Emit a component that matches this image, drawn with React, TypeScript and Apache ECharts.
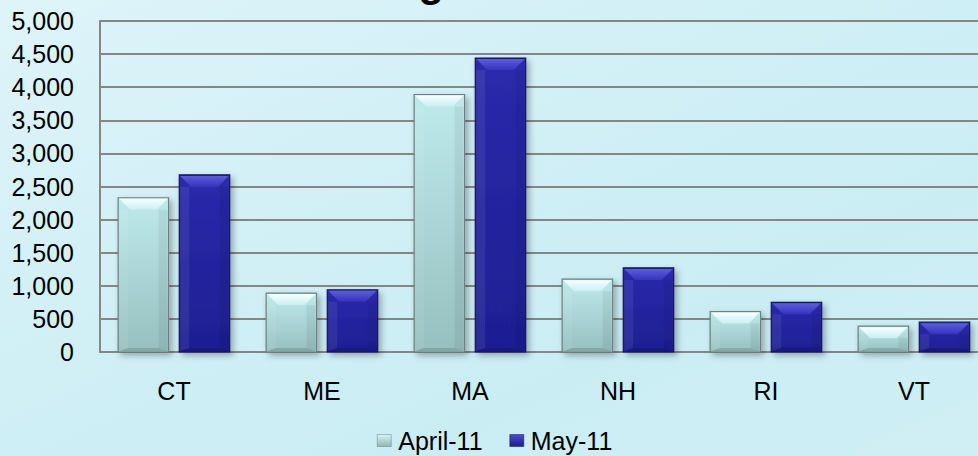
import React, { useEffect, useRef } from "react";
import * as echarts from "echarts";

const categories = ["CT", "ME", "MA", "NH", "RI", "VT"];
const april11 = [2330, 890, 3890, 1100, 610, 390];
const may11 = [2675, 940, 4440, 1270, 750, 450];
const seriesNames = ["April-11", "May-11"];
const chartTitle = "Existing Home Sales";
const yMin = 0;
const yMax = 5000;
const yInterval = 500;

const FONT = "'Liberation Sans', Arial, sans-serif";

type Pal = {
  faceTop: string;
  faceBottom: string;
  bevelTop: string;
  bevelBottom: string;
  stroke: string;
};

const aprilPal: Pal = {
  faceTop: "#bfeaec",
  faceBottom: "#96bfbf",
  bevelTop: "#f6ffff",
  bevelBottom: "#c9eff1",
  stroke: "#6f7f7f",
};
const mayPal: Pal = {
  faceTop: "#2a2aac",
  faceBottom: "#1e1e92",
  bevelTop: "#5c5cdc",
  bevelBottom: "#3434bc",
  stroke: "#14145a",
};

function makeRender(offset: number, pal: Pal) {
  return (_params: any, api: any) => {
    const idx = api.value(0);
    const val = api.value(1);
    const base = api.coord([idx, 0]);
    const top = api.coord([idx, val]);
    const band = api.size([1, 0])[0];
    const w = band * 0.341;
    const cx = base[0] + band * offset;
    const x0 = cx - w / 2;
    const x1 = cx + w / 2;
    const y0 = top[1];
    const y1 = base[1];
    const h = y1 - y0;
    const b = Math.min(12, h / 2);
    const s = Math.min(10, w / 4);
    const bb = Math.min(4, h / 4);
    return {
      type: "group",
      children: [
        {
          type: "rect",
          shape: { x: x0, y: y0, width: w, height: h },
          style: {
            fill: new echarts.graphic.LinearGradient(0, 0, 0, 1, [
              { offset: 0, color: pal.faceTop },
              { offset: 1, color: pal.faceBottom },
            ]),
            stroke: pal.stroke,
            lineWidth: 1.2,
            shadowBlur: 6,
            shadowOffsetX: 3,
            shadowOffsetY: 3,
            shadowColor: "rgba(0,0,0,0.3)",
          },
        },
        {
          type: "polygon",
          shape: { points: [[x0 + 1, y0 + b], [x0 + s, y0 + b], [x0 + s, y1 - bb], [x0 + 1, y1 - 1]] },
          style: { fill: "rgba(255,255,255,0.07)" },
        },
        {
          type: "polygon",
          shape: { points: [[x1 - 1, y0 + b], [x1 - s, y0 + b], [x1 - s, y1 - bb], [x1 - 1, y1 - 1]] },
          style: { fill: "rgba(0,0,0,0.06)" },
        },
        {
          type: "polygon",
          shape: { points: [[x0 + 1, y1 - 1], [x1 - 1, y1 - 1], [x1 - s, y1 - bb], [x0 + s, y1 - bb]] },
          style: { fill: "rgba(0,0,0,0.12)" },
        },
        {
          type: "polygon",
          shape: { points: [[x0 + 1, y0 + 1], [x1 - 1, y0 + 1], [x1 - b, y0 + b], [x0 + b, y0 + b]] },
          style: {
            fill: new echarts.graphic.LinearGradient(0, 0, 0, 1, [
              { offset: 0, color: pal.bevelTop },
              { offset: 1, color: pal.bevelBottom },
            ]),
          },
        },
      ],
    };
  };
}

export default function App() {
  const ref = useRef<HTMLDivElement>(null);
  useEffect(() => {
    document.body.style.margin = "0";
    document.body.style.overflow = "hidden";
    if (!ref.current) return;
    const chart = echarts.init(ref.current, null, { renderer: "svg" });
    const aprilData = april11.map((v, i) => [i, v]);
    const mayData = may11.map((v, i) => [i, v]);
    chart.setOption({
      animation: false,
      backgroundColor: new echarts.graphic.LinearGradient(0, 0, 1, 1, [
        { offset: 0, color: "#def4f9" },
        { offset: 0.35, color: "#d2f0f6" },
        { offset: 0.7, color: "#caedf4" },
        { offset: 1, color: "#d0eff5" },
      ]),
      graphic: [
        {
          type: "text",
          x: 487,
          y: -19,
          style: {
            text: chartTitle,
            font: `bold 42px ${FONT}`,
            fill: "#000",
            align: "center",
            verticalAlign: "middle",
          },
        },
      ],
      grid: { left: 100, right: 0, top: 21, bottom: 104, containLabel: false },
      legend: {
        left: 377,
        top: 428,
        padding: 0,
        icon: "rect",
        itemWidth: 14,
        itemHeight: 12,
        itemGap: 27,
        textStyle: { fontFamily: FONT, fontSize: 25, color: "#000", padding: [0, 0, 0, 2] },
        data: [
          {
            name: seriesNames[0],
            itemStyle: {
              color: new echarts.graphic.LinearGradient(0, 0, 0, 1, [
                { offset: 0, color: "#d8f4f5" },
                { offset: 1, color: "#8fb5b5" },
              ]),
              borderColor: "#6f7f7f",
              borderWidth: 0.5,
            },
          },
          {
            name: seriesNames[1],
            itemStyle: {
              color: new echarts.graphic.LinearGradient(0, 0, 0, 1, [
                { offset: 0, color: "#4c4cd0" },
                { offset: 1, color: "#1c1c8c" },
              ]),
              borderColor: "#14145a",
              borderWidth: 0.5,
            },
          },
        ],
      },
      xAxis: {
        type: "category",
        data: categories,
        boundaryGap: true,
        axisLine: { show: true, lineStyle: { color: "#868686", width: 2 } },
        axisTick: { show: false },
        axisLabel: { fontFamily: FONT, fontSize: 25, color: "#000", margin: 26 },
      },
      yAxis: {
        type: "value",
        min: yMin,
        max: yMax,
        interval: yInterval,
        axisLine: { show: true, lineStyle: { color: "#868686", width: 2 } },
        axisTick: { show: false },
        splitLine: { show: true, lineStyle: { color: "#868686", width: 2 } },
        axisLabel: {
          fontFamily: FONT,
          fontSize: 25,
          color: "#000",
          margin: 26,
          formatter: (v: number) => v.toLocaleString("en-US"),
        },
      },
      series: [
        {
          name: seriesNames[0],
          type: "custom",
          renderItem: makeRender(-0.207, aprilPal),
          encode: { x: 0, y: 1 },
          itemStyle: { color: "#a8d6d8" },
          data: aprilData,
        },
        {
          name: seriesNames[1],
          type: "custom",
          renderItem: makeRender(0.206, mayPal),
          encode: { x: 0, y: 1 },
          itemStyle: { color: "#2525a0" },
          data: mayData,
        },
      ],
    });
    return () => chart.dispose();
  }, []);
  return <div ref={ref} style={{ width: 988, height: 456 }} />;
}
